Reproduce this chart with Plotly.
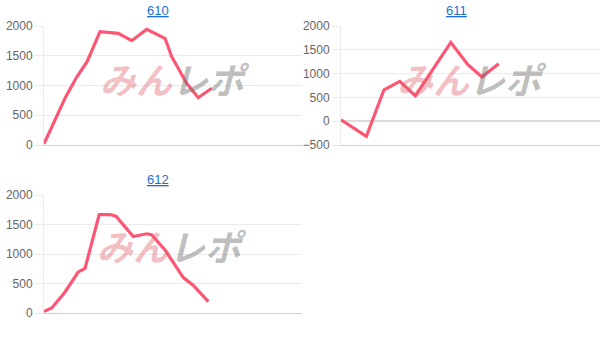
import plotly.graph_objects as go

W, H = 608, 340

titles = ["610", "611", "612"]

# x positions are % of the day's axis span, y = coin difference
x610 = [0, 4.1, 8.3, 12.8, 16.7, 21.7, 26.2, 28.8, 34.0, 39.8, 46.9, 49.5, 55.3, 59.8, 65.0]
y610 = [20, 400, 800, 1150, 1400, 1904, 1888, 1877, 1753, 1945, 1793, 1484, 1037, 795, 953]

x611 = [0, 9.8, 16.6, 22.7, 28.7, 42.4, 49.0, 54.4, 60.9]
y611 = [30, -320, 660, 836, 536, 1655, 1187, 928, 1208]

x612 = [0, 3.0, 8.1, 13.3, 15.9, 21.4, 25.6, 27.9, 34.6, 39.8, 41.7, 46.9, 54.0, 57.9, 63.7]
y612 = [27, 86, 353, 697, 755, 1669, 1669, 1640, 1297, 1343, 1326, 1069, 600, 468, 194]

yranges = [[0, 2000], [-500, 2000], [0, 2000]]

def px_x(p):
    return p / W

def px_y(p):
    return 1 - p / H

# plot areas in pixels: (x0, x1, ytop, ybottom)
areas = [(44, 302, 26, 145), (341, 600, 26, 145), (44, 302, 195, 313)]
title_pos = [(158, 11), (456, 11), (158, 179)]
wm_pos = [(175, 78), (472, 78), (172, 245)]

LINE = "#fd5674"
GRID = "#ebebeb"

fig = go.Figure()
layout = dict(
    template="none",
    width=W, height=H, margin=dict(l=0, r=0, t=0, b=0, pad=0), autosize=False,
    paper_bgcolor="white", plot_bgcolor="white", showlegend=False,
    font=dict(family="Arial, Liberation Sans, sans-serif", size=12, color="#666"),
)
annotations = []
series = [(x610, y610), (x611, y611), (x612, y612)]
for i, ((xs, ys), (x0, x1, yt, yb)) in enumerate(zip(series, areas)):
    n = "" if i == 0 else str(i + 1)
    fig.add_trace(go.Scatter(x=xs, y=ys, mode="lines",
                             line=dict(color=LINE, width=3.2),
                             xaxis="x" + n, yaxis="y" + n, hoverinfo="skip"))
    layout["xaxis" + n] = dict(domain=[px_x(x0), px_x(x1)], range=[0, 100],
                               showgrid=False, zeroline=False, showticklabels=False,
                               ticks="", showline=True, linecolor="#cfcfcf", linewidth=1,
                               anchor="y" + n, fixedrange=True, automargin=False)
    layout["yaxis" + n] = dict(domain=[px_y(yb), px_y(yt)], range=yranges[i], dtick=500,
                               showgrid=True, gridcolor=GRID, gridwidth=1,
                               zeroline=(i == 1), zerolinecolor="#dcdcdc", zerolinewidth=2,
                               ticks="outside", ticklen=8, tickcolor=GRID,
                               showline=True, linecolor=GRID, linewidth=1,
                               tickfont=dict(size=12, color="#666"),
                               anchor="x" + n, fixedrange=True, automargin=False)
    tx, ty = title_pos[i]
    annotations.append(dict(text="<u>%s</u>" % titles[i], x=px_x(tx), y=px_y(ty),
                            xref="paper", yref="paper", showarrow=False,
                            xanchor="center", yanchor="middle",
                            font=dict(size=13, color="#1a6fd1")))
    wx, wy = wm_pos[i]
    annotations.append(dict(
        text="<b><i><span style='color:rgba(225,100,110,0.42)'>みん</span>"
             "<span style='color:rgba(110,110,110,0.45)'>レポ</span></i></b>",
        x=px_x(wx), y=px_y(wy), xref="paper", yref="paper", showarrow=False,
        xanchor="center", yanchor="middle",
        font=dict(size=36, family="Noto Sans CJK JP")))

layout["annotations"] = annotations
fig.update_layout(**layout)
fig.write_html("out.html")
